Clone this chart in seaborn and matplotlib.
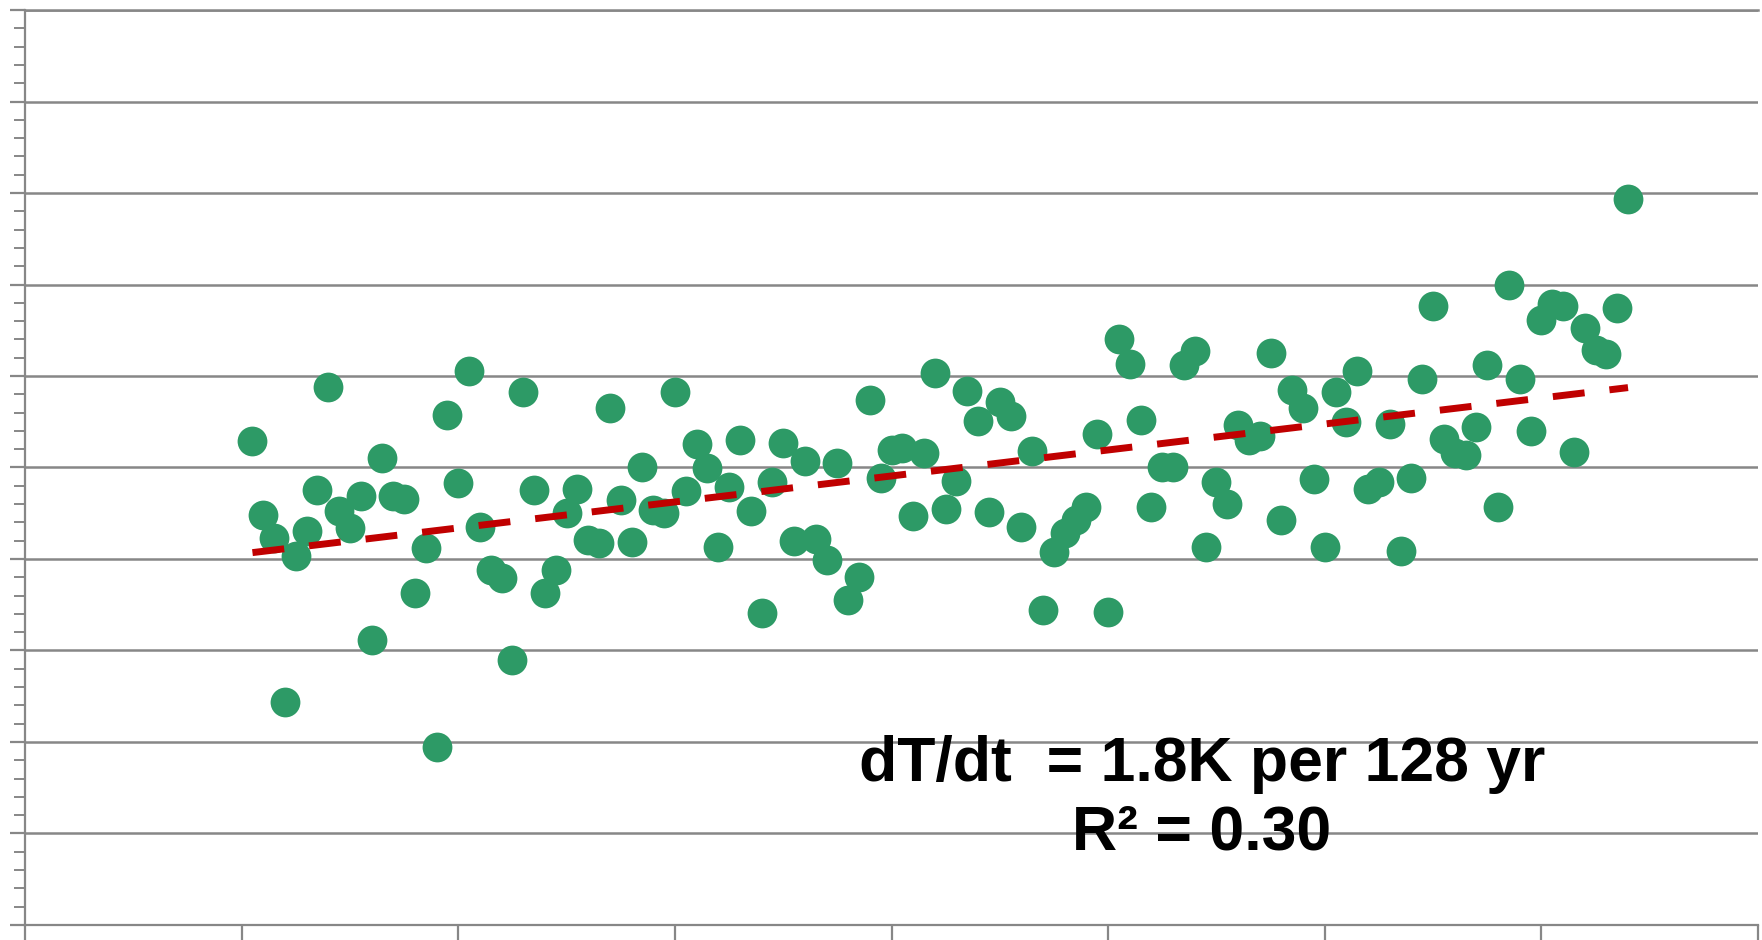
import matplotlib
matplotlib.use('Agg')
import matplotlib.pyplot as plt
from matplotlib import font_manager
from matplotlib.ticker import MultipleLocator
import numpy as np
import pandas as pd
import seaborn as sns

# annual mean temperature, one value per year
years = list(range(1881, 2009))
temps = [
    9.29, 8.48, 8.23, 6.44, 8.03, 8.31, 8.75, 9.88, 8.52, 8.34,  # 1881-1890
    8.69, 7.11, 9.10, 8.69, 8.66, 7.63, 8.12, 5.95, 9.57, 8.83,  # 1891-1900
    10.06, 8.35, 7.88, 7.79, 6.90, 9.82, 8.75, 7.63, 7.88, 8.50,  # 1901-1910
    8.77, 8.21, 8.18, 9.65, 8.65, 8.19, 9.00, 8.54, 8.50, 9.82,  # 1911-1920
    8.74, 9.26, 8.99, 8.13, 8.79, 9.30, 8.52, 7.41, 8.84, 9.27,  # 1921-1930
    8.20, 9.07, 8.22, 7.99, 9.05, 7.55, 7.80, 9.74, 8.88, 9.19,  # 1931-1940
    9.21, 8.47, 9.16, 10.03, 8.55, 8.85, 9.84, 9.51, 8.51, 9.72,  # 1941-1950
    9.56, 8.35, 9.18, 7.44, 8.08, 8.28, 8.43, 8.57, 9.37, 7.42,  # 1951-1960
    10.40, 10.13, 9.52, 8.57, 9.00, 9.00, 10.12, 10.27, 8.13, 8.84,  # 1961-1970
    8.60, 9.46, 9.30, 9.34, 10.25, 8.43, 9.85, 9.65, 8.87, 8.13,  # 1971-1980
    9.82, 9.50, 10.05, 8.77, 8.84, 9.48, 8.09, 8.89, 9.97, 10.77,  # 1981-1990
    9.31, 9.16, 9.14, 9.44, 10.12, 8.57, 11.00, 9.97, 9.40, 10.61,  # 1991-2000
    10.79, 10.76, 9.17, 10.52, 10.28, 10.24, 10.74, 11.93,  # 2001-2008
]

x_limits = (1860, 2020)
y_limits = (4, 14)
annotation = 'dT/dt  = 1.8K per 128 yr\nR\u00b2 = 0.30'

df = pd.DataFrame({'year': years, 'temp': temps})

sns.set_style('white')
plt.rcParams['font.family'] = ['Liberation Sans', 'DejaVu Sans']

# the note is set in a narrow bold face; use it when it is installed
installed = {f.name for f in font_manager.fontManager.ttflist}
if 'Liberation Sans Narrow' in installed:
    note_family = ['Liberation Sans Narrow', 'Liberation Sans', 'DejaVu Sans']
    note_size = 51
else:
    note_family = ['Liberation Sans', 'DejaVu Sans']
    note_size = 45

grey = '#878787'

fig = plt.figure(figsize=(17.62, 9.40), dpi=100)
ax = fig.add_axes([0.01419, 0.01596, 0.98354, 0.97340])

sns.scatterplot(data=df, x='year', y='temp', s=460, color='#2D9A66',
                linewidth=0, ax=ax, zorder=3)
sns.regplot(data=df, x='year', y='temp', scatter=False, ci=None, ax=ax,
            line_kws={'color': '#C00000', 'lw': 5,
                      'ls': (0, (4.6, 3.6)), 'zorder': 4})

ax.set_xlim(*x_limits)
ax.set_ylim(*y_limits)
ax.xaxis.set_major_locator(MultipleLocator(20))
ax.yaxis.set_major_locator(MultipleLocator(1))
ax.yaxis.set_minor_locator(MultipleLocator(0.2))
ax.tick_params(axis='both', which='major', direction='out', length=10.8,
               width=1.6, color=grey, labelbottom=False, labelleft=False,
               bottom=True, left=True)
ax.tick_params(axis='y', which='minor', direction='out', length=8,
               width=1.4, color=grey, left=True)
ax.set_xlabel('')
ax.set_ylabel('')

ax.yaxis.grid(True, color=grey, lw=1.8)
ax.xaxis.grid(False)
ax.set_axisbelow(True)

for side in ['left', 'bottom', 'top']:
    ax.spines[side].set_color(grey)
    ax.spines[side].set_linewidth(1.6)
ax.spines['top'].set_linewidth(1.8)
ax.spines['right'].set_visible(False)

ax.text(0.679, 0.138, annotation, transform=ax.transAxes, ha='center',
        va='center', fontsize=note_size, fontweight='bold', linespacing=1.2,
        family=note_family, color='black', zorder=5)

fig.savefig('out.png', dpi=100)
plt.close(fig)
